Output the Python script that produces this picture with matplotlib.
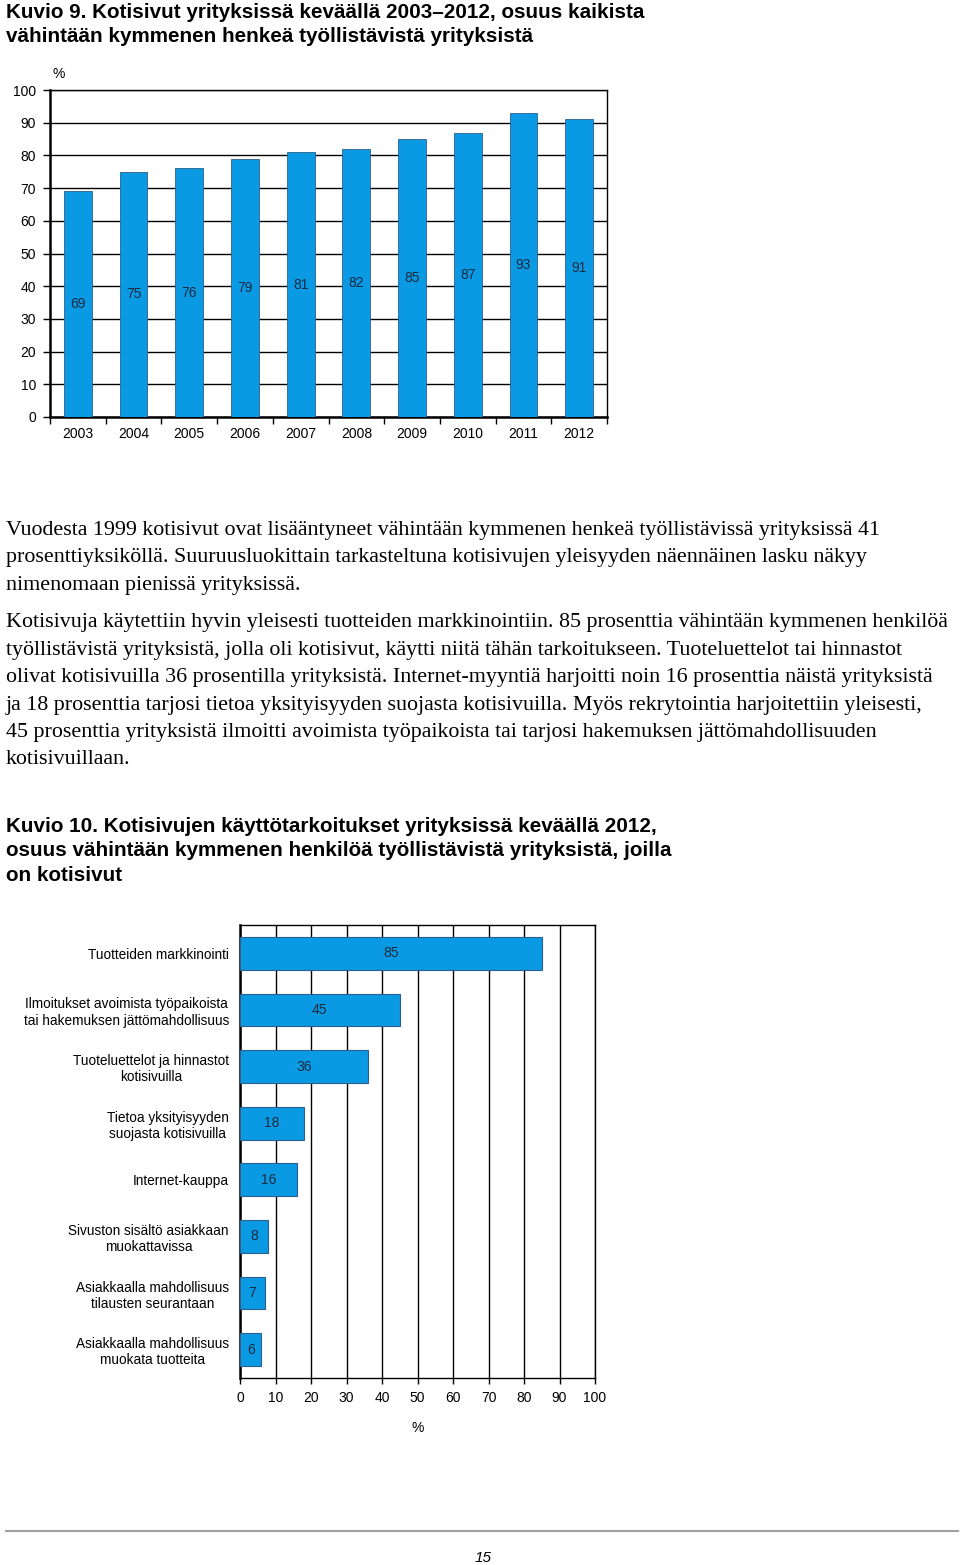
import matplotlib
matplotlib.use("Agg")
import matplotlib.pyplot as plt

# Kuvio 9 data
vuodet = ["2003", "2004", "2005", "2006", "2007", "2008", "2009", "2010", "2011", "2012"]
osuus = [69, 75, 76, 79, 81, 82, 85, 87, 93, 91]

# Kuvio 10 data
kaytto = ["Tuotteiden markkinointi",
          "Ilmoitukset avoimista työpaikoista\ntai hakemuksen jättömahdollisuus",
          "Tuoteluettelot ja hinnastot\nkotisivuilla",
          "Tietoa yksityisyyden\nsuojasta kotisivuilla",
          "Internet-kauppa",
          "Sivuston sisältö asiakkaan\nmuokattavissa",
          "Asiakkaalla mahdollisuus\ntilausten seurantaan",
          "Asiakkaalla mahdollisuus\nmuokata tuotteita"]
kaytto_osuus = [85, 45, 36, 18, 16, 8, 7, 6]

W, H = 960, 1565
sininen = "#0a9ae4"
reuna = "#2b5f8f"
otsikko_font = ["Liberation Sans Narrow", "Liberation Sans", "DejaVu Sans"]
teksti_font = ["Liberation Serif", "DejaVu Serif"]
kuva_font = ["Liberation Sans", "DejaVu Sans"]

fig = plt.figure(figsize=(W / 100, H / 100), dpi=100)


def fx(x):
    return x / W


def fy(y):
    return 1 - y / H


def rivi(x, y, s, **kw):
    fig.text(fx(x), fy(y), s, va="center", ha="left", **kw)


# Otsikko 9
rivi(6, 12, "Kuvio 9. Kotisivut yrityksissä keväällä 2003–2012, osuus kaikista",
     fontsize=14.9, fontweight="bold", family=otsikko_font)
rivi(6, 36, "vähintään kymmenen henkeä työllistävistä yrityksistä",
     fontsize=14.9, fontweight="bold", family=otsikko_font)

# Kuvio 9 pylväät
ax1 = fig.add_axes([fx(50), fy(417), fx(607) - fx(50), fy(90) - fy(417)])
x = range(len(vuodet))
ax1.bar(x, osuus, width=0.5, color=sininen, edgecolor=reuna, linewidth=0.6, zorder=3)
for i, v in enumerate(osuus):
    ax1.text(i, v / 2, str(v), ha="center", va="center", fontsize=10,
             color="#1a2a40", family=kuva_font, zorder=4)
ax1.set_xlim(-0.5, len(vuodet) - 0.5)
ax1.set_ylim(0, 100)
ax1.set_yticks(range(0, 101, 10))
ax1.set_yticklabels([str(t) for t in range(0, 101, 10)], fontsize=10, family=kuva_font)
ax1.set_xticks([i + 0.5 for i in range(-1, len(vuodet))])
ax1.set_xticklabels([])
ax1.set_xticks(list(x), minor=True)
ax1.set_xticklabels(vuodet, minor=True, fontsize=10, family=kuva_font)
ax1.tick_params(axis="x", which="minor", length=0, pad=7)
ax1.tick_params(axis="x", which="major", length=5, width=1)
ax1.tick_params(axis="y", length=5, width=1, pad=5)
ax1.yaxis.grid(True, color="black", linewidth=1, zorder=0)
for s in ax1.spines.values():
    s.set_linewidth(1)
ax1.spines["left"].set_linewidth(1.8)
ax1.spines["bottom"].set_linewidth(1.8)
fig.text(fx(59), fy(74), "%", ha="center", va="center", fontsize=10, family=kuva_font)

# Leipäteksti
kpl1 = ["Vuodesta 1999 kotisivut ovat lisääntyneet vähintään kymmenen henkeä työllistävissä yrityksissä 41",
        "prosenttiyksiköllä. Suuruusluokittain tarkasteltuna kotisivujen yleisyyden näennäinen lasku näkyy",
        "nimenomaan pienissä yrityksissä."]
kpl2 = ["Kotisivuja käytettiin hyvin yleisesti tuotteiden markkinointiin. 85 prosenttia vähintään kymmenen henkilöä",
        "työllistävistä yrityksistä, jolla oli kotisivut, käytti niitä tähän tarkoitukseen. Tuoteluettelot tai hinnastot",
        "olivat kotisivuilla 36 prosentilla yrityksistä. Internet-myyntiä harjoitti noin 16 prosenttia näistä yrityksistä",
        "ja 18 prosenttia tarjosi tietoa yksityisyyden suojasta kotisivuilla. Myös rekrytointia harjoitettiin yleisesti,",
        "45 prosenttia yrityksistä ilmoitti avoimista työpaikoista tai tarjosi hakemuksen jättömahdollisuuden",
        "kotisivuillaan."]
for i, s in enumerate(kpl1):
    rivi(6, 530 + i * 27.6, s, fontsize=15.8, family=teksti_font)
for i, s in enumerate(kpl2):
    rivi(6, 623 + i * 27.4, s, fontsize=15.8, family=teksti_font)

# Otsikko 10
otsikko10 = ["Kuvio 10. Kotisivujen käyttötarkoitukset yrityksissä keväällä 2012,",
             "osuus vähintään kymmenen henkilöä työllistävistä yrityksistä, joilla",
             "on kotisivut"]
for i, s in enumerate(otsikko10):
    rivi(6, 826 + i * 24.7, s, fontsize=14.9, fontweight="bold", family=otsikko_font)

# Kuvio 10 vaakapylväät
ax2 = fig.add_axes([fx(240), fy(1378), fx(595) - fx(240), fy(925) - fy(1378)])
y = range(len(kaytto))
ax2.barh(y, kaytto_osuus, height=0.58, color=sininen, edgecolor=reuna, linewidth=0.8, zorder=3)
for i, v in enumerate(kaytto_osuus):
    ax2.text(v / 2, i, str(v), ha="center", va="center", fontsize=10,
             color="#1a2a40", family=kuva_font, zorder=4)
ax2.set_ylim(len(kaytto) - 0.5, -0.5)
ax2.set_xlim(0, 100)
ax2.set_xticks(range(0, 101, 10))
ax2.set_xticklabels([str(t) for t in range(0, 101, 10)], fontsize=10, family=kuva_font)
ax2.set_yticks(list(y))
ax2.set_yticklabels(kaytto, fontsize=9.8, family=kuva_font)
for lbl in ax2.get_yticklabels():
    lbl.set_multialignment("center")
ax2.tick_params(axis="y", length=0, pad=8)
ax2.tick_params(axis="x", length=4, width=1, pad=5)
ax2.xaxis.grid(True, color="black", linewidth=1, zorder=0)
for s in ax2.spines.values():
    s.set_linewidth(1)
ax2.spines["left"].set_linewidth(1.8)
ax2.set_xlabel("%", fontsize=10, family=kuva_font, labelpad=12)

# Sivun alaosa
fig.add_artist(plt.Line2D([fx(6), fx(958)], [fy(1531), fy(1531)], color="#a0a0a0", linewidth=1.5))
fig.text(fx(483), fy(1558), "15", ha="center", va="center", fontsize=11,
         fontstyle="italic", family=kuva_font)

fig.savefig("out.png", dpi=100)
